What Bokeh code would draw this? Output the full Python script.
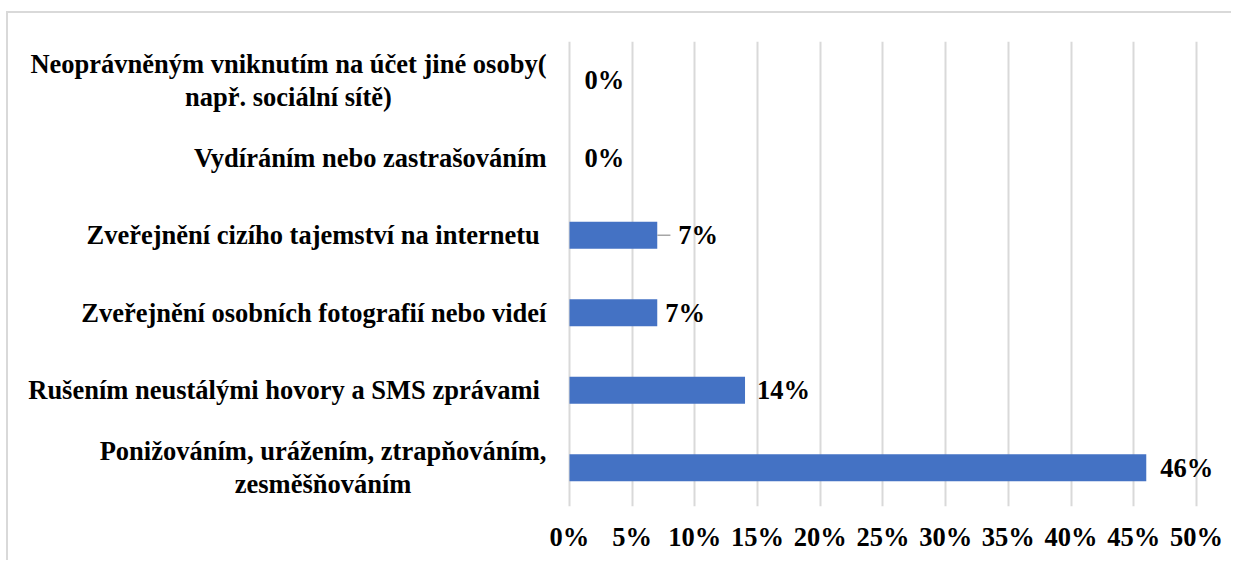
from bokeh.plotting import figure
from bokeh.models import FactorRange, Range1d, FixedTicker, ColumnDataSource
from bokeh.core.properties import value
from bokeh.embed import file_html
from bokeh.resources import INLINE

# ---- data (bottom to top) ----
categories = [
    "Ponižováním, urážením, ztrapňováním,\nzesměšňováním",
    "Rušením neustálými hovory a SMS zprávami ",
    "Zveřejnění osobních fotografií nebo videí",
    "Zveřejnění cizího tajemství na internetu ",
    "Vydíráním nebo zastrašováním",
    "Neoprávněným vniknutím na účet jiné osoby(\nnapř. sociální sítě)",
]
values = [46, 14, 7, 7, 0, 0]
tick_values = [0, 5, 10, 15, 20, 25, 30, 35, 40, 45, 50]
tick_labels = ["0%", "5%", "10%", "15%", "20%", "25%", "30%", "35%", "40%", "45%", "50%"]

# ---- styles ----
label_offsets = [14, 12, 8, 21, 15, 15]
FONT = "Nimbus Roman"
FS = "26.5px"
BAR = "#4472C4"
GRID = "#d9d9d9"
X_START = -44.74  # room on the left of the frame for the category labels

src = ColumnDataSource(dict(
    cat=categories,
    val=values,
    txt=[f"{v}%" for v in values],
    off=label_offsets,
    zero=[0] * len(values),
))

p = figure(
    width=1225, height=549,
    y_range=FactorRange(*categories, range_padding=0),
    x_range=Range1d(X_START, 52),
    output_backend="svg", toolbar_location=None,
    min_border_left=0, min_border_right=12,
    min_border_top=28, min_border_bottom=56,
)
p.styles = {"margin-top": "11px", "margin-left": "6px",
            "border-top": "2px solid #d9d9d9", "border-left": "2px solid #d9d9d9"}
p.outline_line_color = None
p.background_fill_color = "white"
p.border_fill_color = "white"

p.hbar(y="cat", right="val", left=0, height=0.35, source=src,
       fill_color=BAR, line_color=None)

# leader line for the label that was moved away from its bar
lead_i = 3
p.segment(x0=[values[lead_i]], x1=[values[lead_i] + 1.05], y0=[categories[lead_i]], y1=[categories[lead_i]],
          line_color="#a6a6a6", line_width=1.5)

p.text(x="val", y="cat", text="txt", x_offset="off", source=src,
       text_font=value(FONT), text_font_style="bold", text_font_size=FS,
       text_baseline="middle", text_align="left", text_color="black")

# category labels: block right-aligned next to the bars, lines centred
p.text(x="zero", y="cat", text="cat", x_offset=-23, source=src,
       anchor="center_right", text_align="center", text_baseline="middle",
       text_font=value(FONT), text_font_style="bold", text_font_size=FS,
       text_color="black", text_line_height=1.1)

p.xaxis.ticker = FixedTicker(ticks=tick_values)
p.xaxis.major_label_overrides = {t: l for t, l in zip(tick_values, tick_labels)}
p.xaxis.axis_line_color = None
p.xaxis.major_tick_line_color = None
p.xaxis.minor_tick_line_color = None
p.xaxis.major_label_standoff = 9
p.xaxis.major_label_text_font = FONT
p.xaxis.major_label_text_font_style = "bold"
p.xaxis.major_label_text_font_size = FS
p.xaxis.major_label_text_color = "black"

p.yaxis.visible = False

p.ygrid.grid_line_color = None
p.xgrid.ticker = FixedTicker(ticks=tick_values)
p.xgrid.grid_line_color = GRID
p.xgrid.grid_line_width = 2

open("out.html", "w").write(file_html(p, INLINE))
